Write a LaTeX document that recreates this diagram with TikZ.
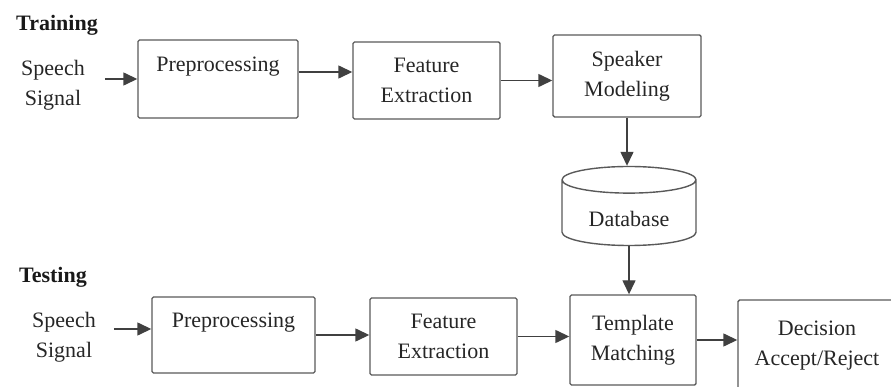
\documentclass[tikz,border=0pt]{standalone}
\usepackage{fontspec}
\setmainfont{Liberation Serif}
\usetikzlibrary{shapes.geometric,arrows.meta}

\begin{document}
\begin{tikzpicture}[x=1pt,y=-1pt,
		font=\fontsize{22}{30}\selectfont,
		blk/.style={draw=black!65,line width=1.4pt,rounded corners=1.5pt,align=center,inner sep=0pt,text=black!85},
		txt/.style={align=center,inner sep=0pt,text=black!85},
		hdr/.style={inner sep=0pt,font=\fontsize{22}{30}\selectfont\bfseries,text=black!90},
		arr/.style={draw=black!75,line width=1.4pt,-{Triangle[length=14pt,width=13pt]}}]
		\useasboundingbox (0,0) rectangle (891,387);
		% training
		\node [hdr] (trn) at (57,25) {Training};
		\node [txt] (sig1) at (53,85) {Speech\\Signal};
		\node [blk,minimum width=160pt,minimum height=78pt] (pre1) at (218,79) {Preprocessing\\\mbox{}};
		\node [blk,minimum width=147pt,minimum height=77pt] (feat1) at (426.5,80.5) {Feature\\Extraction};
		\node [blk,minimum width=148pt,minimum height=82pt] (spk) at (627,76) {Speaker\\Modeling};
		\node [blk,shape=cylinder,shape border rotate=90,aspect=0.33,rounded corners=0pt,minimum width=134pt,minimum height=79pt] (db) at (629,213) {\raisebox{-14pt}[0pt][0pt]{Database}};
		\draw [arr,shorten <=20pt] (sig1.east |- pre1.west) -- (pre1.west);
		\draw [arr] ([yshift=7pt]pre1.east) -- ([yshift=7pt]pre1.east -| feat1.west);
		\draw [arr] (feat1.east) -- (feat1.east -| spk.west);
		\draw [arr] (spk.south) -- (spk.south |- db.north);
		% testing
		\node [hdr] (tst) at (53,277) {Testing};
		\node [txt] (sig2) at (64,337.5) {Speech\\Signal};
		\node [blk,minimum width=163pt,minimum height=76pt] (pre2) at (233.5,335) {Preprocessing\\\mbox{}};
		\node [blk,minimum width=147pt,minimum height=77pt] (feat2) at (443.5,336.5) {Feature\\Extraction};
		\node [blk,minimum width=126pt,minimum height=90pt] (tmpl) at (633,340) {Template\\Matching};
		\node [blk,minimum width=158pt,minimum height=92pt] (dec) at (817,346) {Decision\\Accept/Reject};
		\draw [arr,shorten <=18pt] ([yshift=6pt]pre2.west -| sig2.east) -- ([yshift=6pt]pre2.west);
		\draw [arr] (pre2.east) -- (pre2.east -| feat2.west);
		\draw [arr] (feat2.east) -- (feat2.east -| tmpl.west);
		\draw [arr] (tmpl.east) -- (tmpl.east -| dec.west);
		\draw [arr] (db.south) -- (db.south |- tmpl.north);
	\end{tikzpicture}
\end{document}
